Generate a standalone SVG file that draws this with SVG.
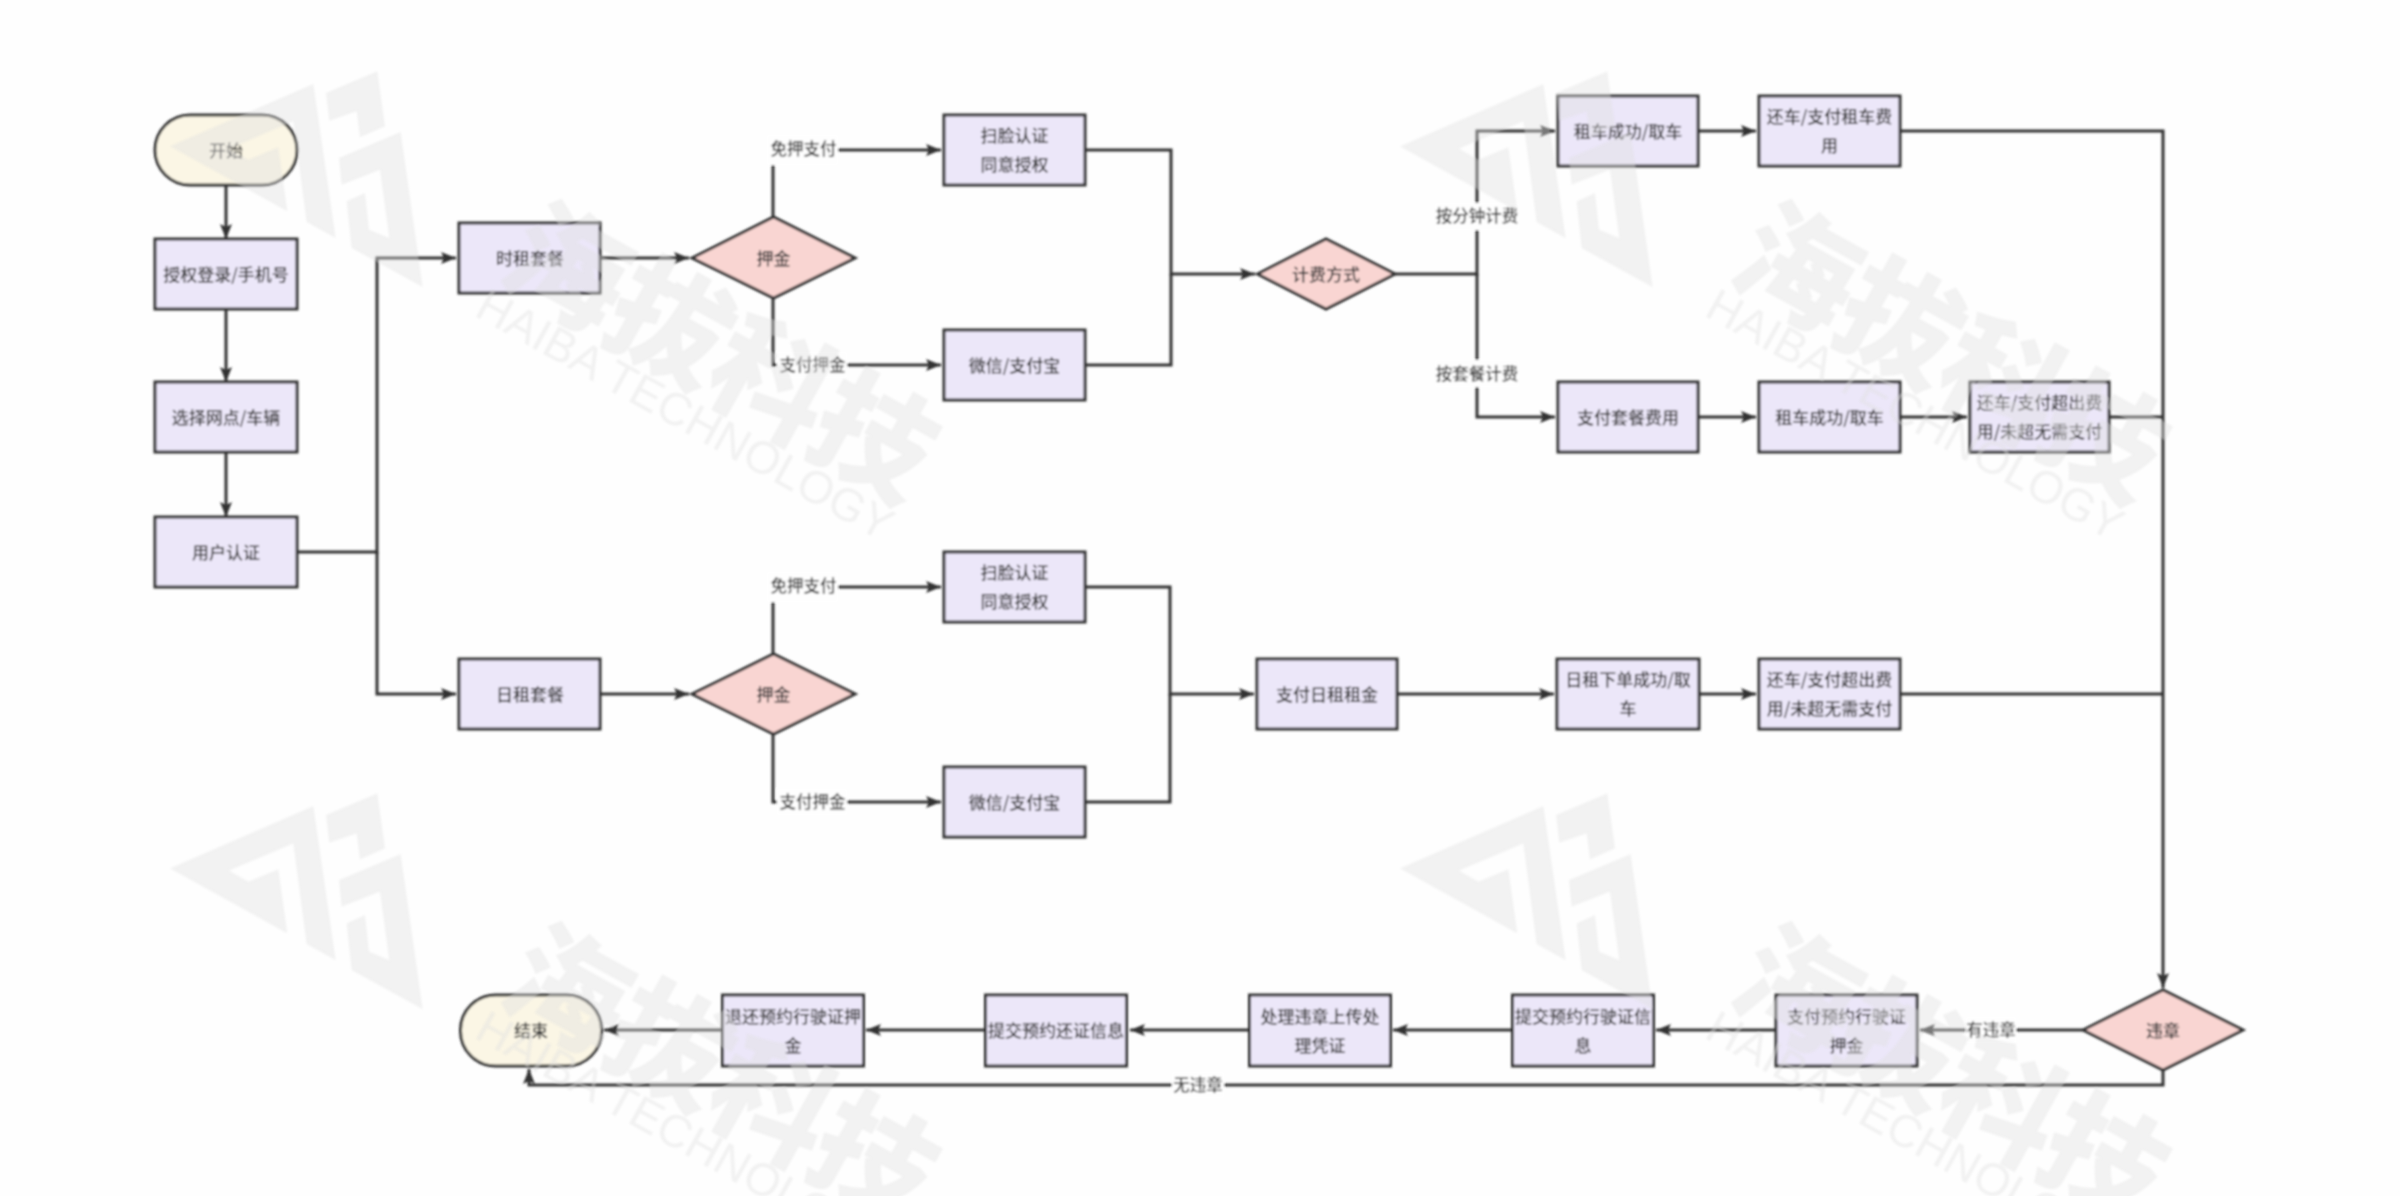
<svg xmlns="http://www.w3.org/2000/svg" width="2400" height="1196" viewBox="0 0 2400 1196">
<style>
.box{fill:#ece7f9;stroke:#333;stroke-width:3}
.dia{fill:#f9d5d2;stroke:#333;stroke-width:3}
.term{fill:#fbf6e5;stroke:#333;stroke-width:3}
text{font-family:"Noto Sans CJK SC","Liberation Sans",sans-serif}
.t{font-size:17px;font-weight:500;fill:#333;text-anchor:middle;dominant-baseline:central;transform:translateY(-1px)}
.l{font-size:16.5px;font-weight:500;fill:#333;text-anchor:middle;dominant-baseline:central;transform:translateY(-1px)}
.lb{fill:#fefefe}
.c{fill:none;stroke:#333;stroke-width:3}
.a{marker-end:url(#arrow)}
.wm{fill:#e0e0e0;opacity:.4}
.wc{font-size:120px;font-weight:900}
.we{font-family:"Liberation Sans",sans-serif;font-size:46px}
</style>
<defs>
<marker id="arrow" markerUnits="userSpaceOnUse" markerWidth="16" markerHeight="14" refX="15" refY="7" orient="auto"><path d="M0,1 L15,7 L0,13 L3,7 Z" fill="#333"/></marker>
<filter id="soft" filterUnits="userSpaceOnUse" x="0" y="0" width="2400" height="1196"><feGaussianBlur stdDeviation="0.8"/></filter>
<g id="logo">
<polygon points="30,265 460,78 527,540 440,492 400,190 207,272 265,305 355,268 382,460"/>
<polygon points="498,105 652,40 675,205 600,238 590,160 508,188"/>
<polygon points="537,300 722,222 788,687 575,570 560,430 615,405 627,515 688,540 660,335 545,380"/>
</g>
</defs>
<rect width="2400" height="1196" fill="#fefefe"/>
<g filter="url(#soft)">
<g id="connectors">
<path class="c a" d="M226,185V239"/>
<path class="c a" d="M226,309V382"/>
<path class="c a" d="M226,452V517"/>
<path class="c a" d="M297,552H377V258H456"/>
<path class="c a" d="M377,552V694H456"/>
<path class="c a" d="M600,258H689"/>
<path class="c a" d="M773,217V150H941"/>
<path class="c a" d="M773,298V365H941"/>
<path class="c a" d="M1085,150H1171V274H1255"/>
<path class="c" d="M1085,365H1171V274"/>
<path class="c a" d="M600,694H689"/>
<path class="c a" d="M773,654V587H941"/>
<path class="c a" d="M773,734V802H941"/>
<path class="c a" d="M1085,587H1170V694H1254"/>
<path class="c" d="M1085,802H1170V694"/>
<path class="c a" d="M1395,274H1477V131H1555"/>
<path class="c a" d="M1477,274V417H1555"/>
<path class="c a" d="M1698,131H1756"/>
<path class="c a" d="M1698,417H1756"/>
<path class="c a" d="M1900,417H1967"/>
<path class="c a" d="M1397,694H1554"/>
<path class="c a" d="M1699,694H1756"/>
<path class="c" d="M2109,417H2163"/>
<path class="c" d="M1900,694H2163"/>
<path class="c a" d="M1900,131H2163V988"/>
<path class="c a" d="M2083,1030H1920"/>
<path class="c a" d="M1776,1030H1656"/>
<path class="c a" d="M1512,1030H1393"/>
<path class="c a" d="M1249,1030H1130"/>
<path class="c a" d="M985,1030H866"/>
<path class="c a" d="M722,1030H604"/>
<path class="c a" d="M2163,1070V1085H529V1069"/>
<g id="edge-labels">
<rect class="lb" x="767" y="135" width="71" height="30"/><text class="l" x="803.500" y="149">免押支付</text>
<rect class="lb" x="777" y="352" width="70" height="26"/><text class="l" x="812.500" y="365">支付押金</text>
<rect class="lb" x="767" y="572" width="71" height="30"/><text class="l" x="803.500" y="586">免押支付</text>
<rect class="lb" x="777" y="789" width="70" height="26"/><text class="l" x="812.500" y="802">支付押金</text>
<rect class="lb" x="1435" y="203" width="84" height="27"/><text class="l" x="1477" y="216">按分钟计费</text>
<rect class="lb" x="1435" y="360" width="84" height="27"/><text class="l" x="1477" y="374">按套餐计费</text>
<rect class="lb" x="1966" y="1017" width="50" height="26"/><text class="l" x="1991" y="1030">有违章</text>
<rect class="lb" x="1172" y="1072" width="52" height="26"/><text class="l" x="1198" y="1085">无违章</text>
</g>
</g>
<g id="n-start"><rect class="term" x="155" y="115" width="142" height="70" rx="35"/><text class="t" x="226" y="150">开始</text></g>
<g id="n-login"><rect class="box" x="155" y="239" width="142" height="70"/><text class="t" x="226" y="274">授权登录/手机号</text></g>
<g id="n-select"><rect class="box" x="155" y="382" width="142" height="70"/><text class="t" x="226" y="417">选择网点/车辆</text></g>
<g id="n-auth"><rect class="box" x="155" y="517" width="142" height="70"/><text class="t" x="226" y="552">用户认证</text></g>
<g id="n-hourly"><rect class="box" x="459" y="223" width="141" height="70"/><text class="t" x="530" y="258">时租套餐</text></g>
<g id="n-deposit1"><polygon class="dia" points="692,258 773.500,217 855,258 773.500,298"/><text class="t" x="773.500" y="258">押金</text></g>
<g id="n-face1"><rect class="box" x="944" y="115" width="141" height="70"/><text class="t" x="1014.500" y="135.500">扫脸认证</text><text class="t" x="1014.500" y="164.500">同意授权</text></g>
<g id="n-pay1"><rect class="box" x="944" y="330" width="141" height="70"/><text class="t" x="1014.500" y="365">微信/支付宝</text></g>
<g id="n-billing"><polygon class="dia" points="1257.500,274 1326,239 1395,274 1326,309"/><text class="t" x="1326" y="274">计费方式</text></g>
<g id="n-rent1"><rect class="box" x="1558" y="96" width="140" height="70"/><text class="t" x="1628" y="131">租车成功/取车</text></g>
<g id="n-return1"><rect class="box" x="1759" y="96" width="141" height="70"/><text class="t" x="1829.500" y="116.500">还车/支付租车费</text><text class="t" x="1829.500" y="145.500">用</text></g>
<g id="n-package"><rect class="box" x="1558" y="382" width="140" height="70"/><text class="t" x="1628" y="417">支付套餐费用</text></g>
<g id="n-rent2"><rect class="box" x="1759" y="382" width="141" height="70"/><text class="t" x="1829.500" y="417">租车成功/取车</text></g>
<g id="n-return2"><rect class="box" x="1970" y="382" width="139" height="70"/><text class="t" x="2039.500" y="402.500">还车/支付超出费</text><text class="t" x="2039.500" y="431.500">用/未超无需支付</text></g>
<g id="n-daily"><rect class="box" x="459" y="659" width="141" height="70"/><text class="t" x="530" y="694">日租套餐</text></g>
<g id="n-deposit2"><polygon class="dia" points="692,694 773.500,654 855,694 773.500,734"/><text class="t" x="773.500" y="694">押金</text></g>
<g id="n-face2"><rect class="box" x="944" y="552" width="141" height="70"/><text class="t" x="1014.500" y="572.500">扫脸认证</text><text class="t" x="1014.500" y="601.500">同意授权</text></g>
<g id="n-pay2"><rect class="box" x="944" y="767" width="141" height="70"/><text class="t" x="1014.500" y="802">微信/支付宝</text></g>
<g id="n-dayrent"><rect class="box" x="1257" y="659" width="140" height="70"/><text class="t" x="1327" y="694">支付日租租金</text></g>
<g id="n-dayorder"><rect class="box" x="1557" y="659" width="142" height="70"/><text class="t" x="1628" y="679.500">日租下单成功/取</text><text class="t" x="1628" y="708.500">车</text></g>
<g id="n-return3"><rect class="box" x="1759" y="659" width="141" height="70"/><text class="t" x="1829.500" y="679.500">还车/支付超出费</text><text class="t" x="1829.500" y="708.500">用/未超无需支付</text></g>
<g id="n-violation"><polygon class="dia" points="2083,1030 2163,990 2243,1030 2163,1070"/><text class="t" x="2163" y="1030">违章</text></g>
<g id="n-paylic"><rect class="box" x="1776" y="995" width="141" height="71"/><text class="t" x="1846.500" y="1016">支付预约行驶证</text><text class="t" x="1846.500" y="1045">押金</text></g>
<g id="n-sublic"><rect class="box" x="1512.500" y="995" width="141" height="71"/><text class="t" x="1583" y="1016">提交预约行驶证信</text><text class="t" x="1583" y="1045">息</text></g>
<g id="n-handle"><rect class="box" x="1249.500" y="995" width="141" height="71"/><text class="t" x="1320" y="1016">处理违章上传处</text><text class="t" x="1320" y="1045">理凭证</text></g>
<g id="n-subret"><rect class="box" x="985.500" y="995" width="141" height="71"/><text class="t" x="1056" y="1030">提交预约还证信息</text></g>
<g id="n-refund"><rect class="box" x="722.500" y="995" width="141" height="71"/><text class="t" x="793" y="1016">退还预约行驶证押</text><text class="t" x="793" y="1045">金</text></g>
<g id="n-end"><rect class="term" x="460.500" y="995" width="141" height="71" rx="35"/><text class="t" x="531" y="1030">结束</text></g>
</g>
<g id="watermark" class="wm" filter="url(#soft)">
<use href="#logo" transform="translate(160,58) scale(.3333)"/>
<use href="#logo" transform="translate(1390,58) scale(.3333)"/>
<use href="#logo" transform="translate(160,780) scale(.3333)"/>
<use href="#logo" transform="translate(1390,780) scale(.3333)"/>
<text class="wc" transform="translate(495,277) rotate(29)" textLength="470">海拔科技</text>
<text class="we" transform="translate(473,315) rotate(29)" textLength="468">HAIBA TECHNOLOGY</text>
<text class="wc" transform="translate(1725,277) rotate(29)" textLength="470">海拔科技</text>
<text class="we" transform="translate(1703,315) rotate(29)" textLength="468">HAIBA TECHNOLOGY</text>
<text class="wc" transform="translate(495,999) rotate(29)" textLength="470">海拔科技</text>
<text class="we" transform="translate(473,1037) rotate(29)" textLength="468">HAIBA TECHNOLOGY</text>
<text class="wc" transform="translate(1725,999) rotate(29)" textLength="470">海拔科技</text>
<text class="we" transform="translate(1703,1037) rotate(29)" textLength="468">HAIBA TECHNOLOGY</text>
</g>
</svg>
